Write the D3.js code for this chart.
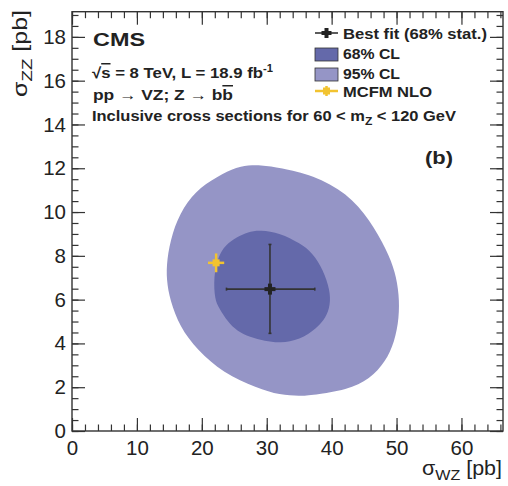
<!DOCTYPE html>
<html><head><meta charset="utf-8">
<script src="https://cdn.jsdelivr.net/npm/d3@7"></script>
<style>
body{margin:0;background:#fff;}
svg text{font-family:"Liberation Sans",Arial,sans-serif;fill:#222;}
</style></head>
<body>
<svg id="c" width="508" height="486"></svg>
<script>
// ---- data ----
const xTickValues = [0,10,20,30,40,50,60];
const yTickValues = [0,2,4,6,8,10,12,14,16,18];
// 95% CL contour (sigma_WZ, sigma_ZZ)
const outerWZ = [25.9,29.2,32.05,37.1,42.4,45.9,48.5,49.8,50.4,50.4,49.7,48.3,45.9,42.4,37.1,35.1,32.05,28.5,23.3,19.3,16.6,15.1,14.55,14.6,15.4,17.1,19.7,23.3];
const outerZZ = [12.12,12.16,12.02,11.7,10.87,9.63,8.26,7.27,6.22,5.17,4.07,3.16,2.37,1.87,1.64,1.60,1.64,1.96,2.65,3.70,4.75,5.98,6.89,7.81,9.04,10.23,11.14,11.78];
// 68% CL contour
const innerWZ = [29.0,32.05,35.1,37.1,38.7,39.75,39.8,39.1,37.7,35.1,32.05,29.7,27.4,25.4,24.0,22.65,22.0,21.8,22.5,23.6,25.4,27.1];
const innerZZ = [9.18,9.04,8.58,8.13,7.35,6.44,5.75,5.16,4.70,4.16,4.02,4.11,4.29,4.57,4.98,5.62,5.98,7.03,7.95,8.49,8.86,9.09];
// best fit and MCFM NLO
const bestFitWZ = [30.5], bestFitWZLo = [23.8], bestFitWZHi = [37.4];
const bestFitZZ = [6.48], bestFitZZLo = [4.46], bestFitZZHi = [8.52];
const mcfmWZ = [22.2], mcfmWZErr = [1.25];
const mcfmZZ = [7.68], mcfmZZErr = [0.43];
const legendLabels = ["Best fit (68% stat.)", "68% CL", "95% CL", "MCFM NLO"];

// ---- layout ----
const L = 72, R = 503, T = 11.7, B = 431;
const x = d3.scaleLinear().domain([0, 66.4]).range([L, R]);
const y = d3.scaleLinear().domain([0, 19.15]).range([B, T]);
const svg = d3.select("#c");
const col95 = "#9595c6", col68 = "#6469aa", colMC = "#f2c330", ink = "#333";

const line = d3.line().x(d => x(d[0])).y(d => y(d[1])).curve(d3.curveBasisClosed);
svg.append("path").attr("d", line(outerWZ.map((v,i)=>[v, outerZZ[i]]))).attr("fill", col95);
svg.append("path").attr("d", line(innerWZ.map((v,i)=>[v, innerZZ[i]]))).attr("fill", col68);

// MCFM
const mg = svg.append("g").attr("stroke", colMC).attr("stroke-width", 2.5);
mcfmWZ.forEach((w,i) => {
  mg.append("line").attr("x1", x(w - mcfmWZErr[i])).attr("x2", x(w + mcfmWZErr[i])).attr("y1", y(mcfmZZ[i])).attr("y2", y(mcfmZZ[i]));
  mg.append("line").attr("x1", x(w)).attr("x2", x(w)).attr("y1", y(mcfmZZ[i] - mcfmZZErr[i])).attr("y2", y(mcfmZZ[i] + mcfmZZErr[i]));
  svg.append("rect").attr("x", x(w) - 3.5).attr("y", y(mcfmZZ[i]) - 3.5).attr("width", 7).attr("height", 7).attr("fill", colMC);
});

// best fit
const bg = svg.append("g").attr("stroke", ink).attr("stroke-width", 1.6);
bestFitWZ.forEach((w,i) => {
  const cx = x(w), cy = y(bestFitZZ[i]);
  bg.append("line").attr("x1", x(bestFitWZLo[i])).attr("x2", x(bestFitWZHi[i])).attr("y1", cy).attr("y2", cy);
  bg.append("line").attr("x1", cx).attr("x2", cx).attr("y1", y(bestFitZZLo[i])).attr("y2", y(bestFitZZHi[i]));
  [x(bestFitWZLo[i]), x(bestFitWZHi[i])].forEach(ex => bg.append("line").attr("x1", ex).attr("x2", ex).attr("y1", cy-1.5).attr("y2", cy+1.5));
  [y(bestFitZZLo[i]), y(bestFitZZHi[i])].forEach(ey => bg.append("line").attr("x1", cx-1.5).attr("x2", cx+1.5).attr("y1", ey).attr("y2", ey));
  svg.append("rect").attr("x", cx-5.5).attr("y", cy-2).attr("width", 11).attr("height", 4).attr("fill", "#222");
  svg.append("rect").attr("x", cx-2).attr("y", cy-5.5).attr("width", 4).attr("height", 11).attr("fill", "#222");
});

// ---- axes (CMS style: ticks inward on all sides) ----
const fs = 20.5;
function ticks(axisGen, tr) {
  const g = svg.append("g").attr("transform", tr).call(axisGen);
  g.select(".domain").remove();
  g.selectAll("line").attr("stroke", ink).attr("stroke-width", 1.2);
  return g;
}
const xMinor = d3.range(0, 66.4, 2);
const yMinor = d3.range(0, 19.15, 0.5);
ticks(d3.axisBottom(x).tickValues(xMinor).tickSize(-6.5).tickFormat(""), `translate(0,${B})`);
const gxb = ticks(d3.axisBottom(x).tickValues(xTickValues).tickSize(-13).tickFormat(d3.format("d")), `translate(0,${B})`);
gxb.selectAll("text").attr("font-size", fs).attr("fill", "#222").attr("dy", "0.71em").attr("y", 9);
ticks(d3.axisTop(x).tickValues(xMinor).tickSize(-6.5).tickFormat(""), `translate(0,${T})`);
ticks(d3.axisTop(x).tickValues(xTickValues).tickSize(-13).tickFormat(""), `translate(0,${T})`);
ticks(d3.axisLeft(y).tickValues(yMinor).tickSize(-6.5).tickFormat(""), `translate(${L},0)`);
const gyl = ticks(d3.axisLeft(y).tickValues(yTickValues).tickSize(-13).tickFormat(d3.format("d")), `translate(${L},0)`);
gyl.selectAll("text").attr("font-size", fs).attr("fill", "#222").attr("x", -6);
ticks(d3.axisRight(y).tickValues(yMinor).tickSize(-6.5).tickFormat(""), `translate(${R},0)`);
ticks(d3.axisRight(y).tickValues(yTickValues).tickSize(-13).tickFormat(""), `translate(${R},0)`);
svg.selectAll(".tick text").attr("font-family", "Liberation Sans, Arial, sans-serif");
svg.append("rect").attr("x", L).attr("y", T).attr("width", R-L).attr("height", B-T)
  .attr("fill", "none").attr("stroke", ink).attr("stroke-width", 1.4);

// axis titles
const xt = svg.append("text").attr("x", R - 1).attr("y", 475).attr("text-anchor", "end").attr("font-size", 20)
  .attr("textLength", 80).attr("lengthAdjust", "spacingAndGlyphs");
xt.append("tspan").text("σ");
xt.append("tspan").attr("font-size", 15).attr("dy", 5).text("WZ");
xt.append("tspan").attr("dy", -5).text(" [pb]");
const yt = svg.append("text").attr("transform", "translate(27,10) rotate(-90)").attr("text-anchor", "end").attr("font-size", 20)
  .attr("textLength", 87).attr("lengthAdjust", "spacingAndGlyphs");
yt.append("tspan").text("σ");
yt.append("tspan").attr("font-size", 15).attr("dy", 5).text("ZZ");
yt.append("tspan").attr("dy", -5).text(" [pb]");

// ---- annotations ----
function stretch(sel, len) { return sel.attr("textLength", len).attr("lengthAdjust", "spacingAndGlyphs"); }
stretch(svg.append("text").attr("x", 93).attr("y", 46).attr("font-size", 19).attr("font-weight", "bold").text("CMS"), 52);
const t1 = stretch(svg.append("text").attr("x", 92).attr("y", 78).attr("font-size", 15).attr("font-weight", "bold"), 181);
t1.append("tspan").text("√");
t1.append("tspan").style("text-decoration", "overline").text("s");
t1.append("tspan").text(" = 8 TeV, L = 18.9 fb");
t1.append("tspan").attr("font-size", 10).attr("dy", -6).text("-1");
const t2 = stretch(svg.append("text").attr("x", 93).attr("y", 100).attr("font-size", 15).attr("font-weight", "bold"), 140);
t2.append("tspan").text("pp ");
t2.append("tspan").attr("font-weight", "normal").text("→");
t2.append("tspan").text(" VZ; Z ");
t2.append("tspan").attr("font-weight", "normal").text("→");
t2.append("tspan").text(" b");
t2.append("tspan").style("text-decoration", "overline").text("b");
const t3 = stretch(svg.append("text").attr("x", 92).attr("y", 121).attr("font-size", 15).attr("font-weight", "bold"), 364);
t3.append("tspan").text("Inclusive cross sections for 60 < m");
t3.append("tspan").attr("font-size", 11).attr("dy", 4).text("Z");
t3.append("tspan").attr("dy", -4).text(" < 120 GeV");
stretch(svg.append("text").attr("x", 425).attr("y", 164).attr("font-size", 18).attr("font-weight", "bold").text("(b)"), 28);

// ---- legend ----
const lx = 315, lw = 23, tx = 343;
const leg = svg.append("g");
leg.append("line").attr("x1", lx).attr("x2", lx+lw).attr("y1", 33).attr("y2", 33).attr("stroke", ink).attr("stroke-width", 1.6);
leg.append("rect").attr("x", lx+lw/2-5).attr("y", 31).attr("width", 10).attr("height", 4).attr("fill", "#222");
leg.append("rect").attr("x", lx+lw/2-2).attr("y", 28).attr("width", 4).attr("height", 10).attr("fill", "#222");
leg.append("rect").attr("x", lx).attr("y", 48).attr("width", lw).attr("height", 13).attr("fill", col68).attr("stroke", "#333").attr("stroke-width", 0.8);
leg.append("rect").attr("x", lx).attr("y", 68).attr("width", lw).attr("height", 13).attr("fill", col95).attr("stroke", "#333").attr("stroke-width", 0.8);
leg.append("line").attr("x1", lx).attr("x2", lx+lw).attr("y1", 91).attr("y2", 91).attr("stroke", colMC).attr("stroke-width", 2.5);
leg.append("line").attr("x1", lx+lw/2).attr("x2", lx+lw/2).attr("y1", 86).attr("y2", 96).attr("stroke", colMC).attr("stroke-width", 2.5);
leg.append("rect").attr("x", lx+lw/2-3.5).attr("y", 87.5).attr("width", 7).attr("height", 7).attr("fill", colMC);
const legY = [38.5, 59, 79, 97];
const legW = [144, 57, 57, 89];
legendLabels.forEach((s,i) => stretch(leg.append("text").attr("x", tx).attr("y", legY[i]).attr("font-size", 15).attr("font-weight", "bold").text(s), legW[i]));
</script>
</body></html>
